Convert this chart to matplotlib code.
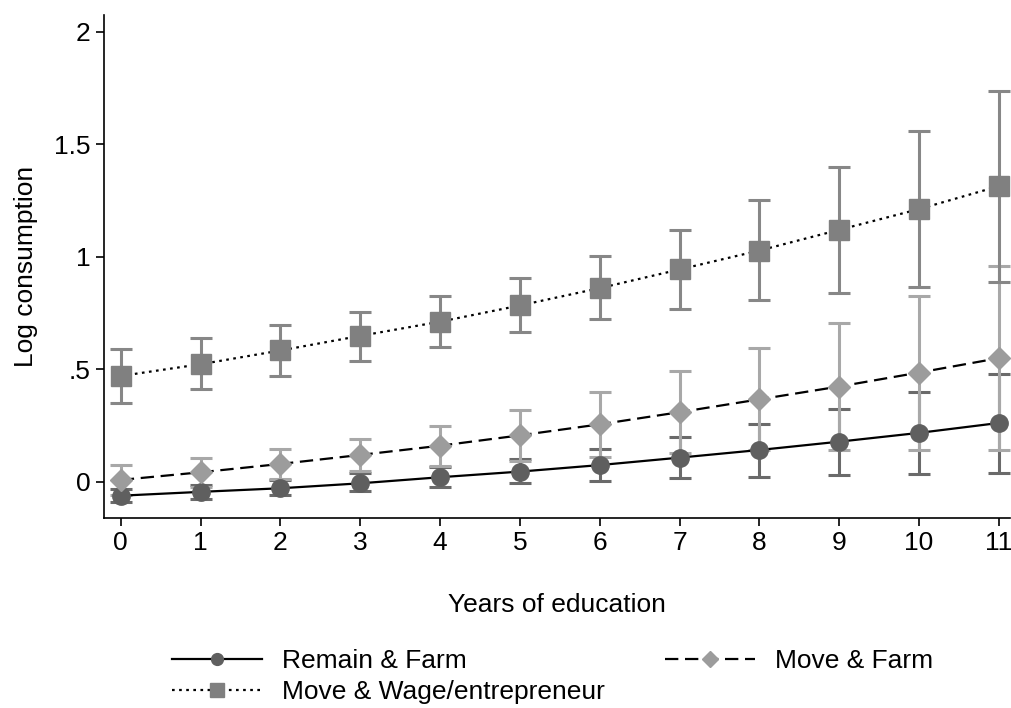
import numpy as np
import matplotlib
matplotlib.use("Agg")
import matplotlib.pyplot as plt

plt.rcParams['font.family'] = ['Liberation Sans', 'DejaVu Sans']

# Years of education
educ = np.arange(0, 12)

# Remain & Farm (mean, lower, upper)
rf_mean = [-0.061, -0.044, -0.028, -0.006, 0.021, 0.046, 0.075, 0.108, 0.142, 0.179, 0.218, 0.262]
rf_lo = [-0.087, -0.074, -0.060, -0.040, -0.024, -0.006, 0.006, 0.018, 0.024, 0.031, 0.037, 0.041]
rf_hi = [-0.030, -0.012, 0.009, 0.038, 0.065, 0.100, 0.147, 0.198, 0.258, 0.324, 0.399, 0.480]

# Move & Farm
mf_mean = [0.009, 0.043, 0.080, 0.120, 0.161, 0.207, 0.256, 0.310, 0.367, 0.424, 0.486, 0.550]
mf_lo = [-0.058, -0.022, 0.015, 0.047, 0.072, 0.094, 0.113, 0.128, 0.140, 0.141, 0.144, 0.141]
mf_hi = [0.076, 0.108, 0.145, 0.193, 0.250, 0.320, 0.399, 0.492, 0.594, 0.707, 0.828, 0.959]

# Move & Wage/entrepreneur
mw_mean = [0.471, 0.523, 0.584, 0.649, 0.712, 0.784, 0.861, 0.944, 1.028, 1.120, 1.212, 1.314]
mw_lo = [0.352, 0.412, 0.471, 0.536, 0.601, 0.664, 0.722, 0.767, 0.807, 0.841, 0.866, 0.889]
mw_hi = [0.590, 0.640, 0.696, 0.757, 0.827, 0.908, 1.006, 1.118, 1.252, 1.397, 1.560, 1.739]

fig = plt.figure(figsize=(10.12, 7.08), dpi=100)
ax = fig.add_axes([0.1028, 0.2684, 0.8952, 0.7106])

series = [
    (rf_mean, rf_lo, rf_hi, '#5f5f5f', '#6a6a6a', 'o', 12.5, '-', 'Remain & Farm'),
    (mf_mean, mf_lo, mf_hi, '#9c9c9c', '#a8a8a8', 'D', 11.5, (0, (6, 3)), 'Move & Farm'),
    (mw_mean, mw_lo, mw_hi, '#808080', '#878787', 's', 14, (0, (1.2, 2.0)), 'Move & Wage/entrepreneur'),
]

handles = []
for mean, lo, hi, mcol, ecol, mk, ms, ls, lab in series:
    mean = np.array(mean)
    err = [mean - np.array(lo), np.array(hi) - mean]
    ax.errorbar(educ, mean, yerr=err, fmt='none', ecolor=ecol, elinewidth=2.2,
                capsize=8, capthick=2.2, zorder=2)
    ax.plot(educ, mean, color='black', linestyle=ls, linewidth=1.6, zorder=3)
    ax.plot(educ, mean, linestyle='none', marker=mk, markersize=ms, color=mcol,
            markeredgecolor=mcol, zorder=4)
    h, = ax.plot([], [], color='black', linestyle=ls, linewidth=1.6, marker=mk,
                 markersize=ms * 0.68, markerfacecolor=mcol, markeredgecolor=mcol, label=lab)
    handles.append(h)

ax.set_xlim(-0.21, 11.14)
ax.set_ylim(-0.16, 2.075)
ax.set_xticks(educ)
ax.set_yticks([0, 0.5, 1, 1.5, 2])
ax.set_yticklabels(['0', '.5', '1', '1.5', '2'])
ax.tick_params(axis='both', labelsize=19, direction='out', length=6, width=1.2)
ax.spines['top'].set_visible(False)
ax.spines['right'].set_visible(False)
ax.spines['left'].set_linewidth(1.2)
ax.spines['bottom'].set_linewidth(1.2)
ax.set_xlabel('Years of education', fontsize=19, labelpad=27)
ax.set_ylabel('Log consumption', fontsize=19, labelpad=12)

# legend entries placed one by one (row 1: two entries, row 2: one)
spots = [(172, 661), (665, 661), (172, 692)]
for h, (px, py) in zip(handles, spots):
    leg = fig.legend([h], [h.get_label()], loc='center left',
                     bbox_to_anchor=(px / 1012, 1 - py / 708), frameon=False,
                     fontsize=19, handlelength=3.4, handletextpad=0.75,
                     borderpad=0, borderaxespad=0)

fig.savefig('out.png', dpi=100)
